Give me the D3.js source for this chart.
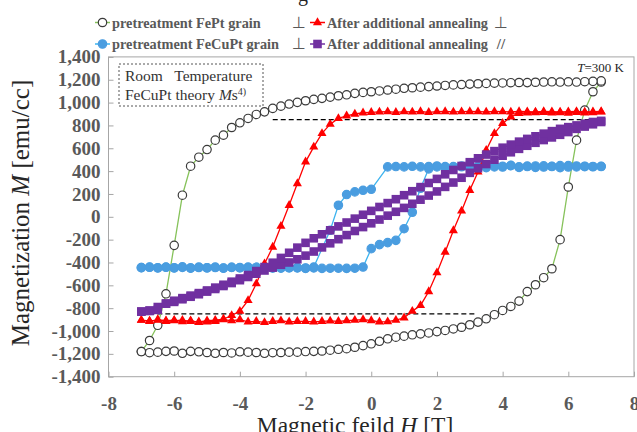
<!DOCTYPE html>
<html>
<head>
<meta charset="utf-8">
<script src="https://cdn.jsdelivr.net/npm/d3@7"></script>
<style>
body { margin: 0; background: #fff; }
svg text { font-family: "Liberation Serif", "Times New Roman", serif; }
</style>
</head>
<body>
<div id="chart"></div>
<script>
// field values shared by every branch, H [T]
var fieldH = [-7, -6.75, -6.5, -6.25, -6, -5.75, -5.5, -5.25, -5, -4.75, -4.5, -4.25,
	-4, -3.75, -3.5, -3.25, -3, -2.75, -2.5, -2.25, -2, -1.75, -1.5, -1.25,
	-1, -0.75, -0.5, -0.25, 0, 0.25, 0.5, 0.75, 1, 1.25, 1.5, 1.75,
	2, 2.25, 2.5, 2.75, 3, 3.25, 3.5, 3.75, 4, 4.25, 4.5, 4.75,
	5, 5.25, 5.5, 5.75, 6, 6.25, 6.5, 6.75, 7];

// pretreatment FePt grain (perp) - up = field increasing, down = field decreasing (both listed in fieldH order)
var feptUp = [-1180, -1190, -1185, -1178, -1175, -1195, -1178, -1182, -1188, -1195, -1188, -1192,
	-1182, -1185, -1188, -1195, -1190, -1188, -1185, -1185, -1180, -1178, -1175, -1168,
	-1160, -1155, -1142, -1128, -1112, -1090, -1068, -1054, -1045, -1033, -1025, -1017,
	-1005, -995, -982, -967, -945, -922, -893, -857, -820, -785, -738, -655,
	-595, -533, -455, -200, 261, 671, 934, 1095, 1180];
var feptDown = [-1180, -1083, -950, -674, -250, 189, 443, 522, 589, 671, 715, 782,
	823, 861, 896, 919, 949, 969, 987, 1002, 1016, 1028, 1037, 1048,
	1060, 1068, 1081, 1089, 1095, 1102, 1110, 1117, 1125, 1130, 1135, 1140,
	1145, 1150, 1155, 1158, 1162, 1165, 1168, 1170, 1172, 1174, 1176, 1175,
	1178, 1180, 1182, 1180, 1182, 1180, 1183, 1186, 1190];

// pretreatment FeCuPt grain (perp)
var fecuptUp = [-445, -440, -448, -442, -446, -438, -450, -444, -447, -441, -449, -443,
	-446, -440, -448, -445, -442, -450, -444, -447, -452, -448, -452, -450,
	-450, -452, -450, -440, -279, -244, -226, -206, -104, 40, 250, 420,
	437, 440, 432, 445, 438, 442, 430, 445, 436, 448, 432, 440,
	445, 436, 442, 430, 448, 437, 443, 438, 440];
var fecuptDown = [-445, -442, -446, -440, -448, -443, -447, -441, -446, -444, -449, -442,
	-445, -447, -441, -446, -449, -443, -447, -445, -448, -440, null, -118,
	101, 195, 218, 232, 241, null, 437, 440, 437, 442, 437, 440,
	445, 432, 440, 438, 446, 435, 441, 437, 443, 450, 438, 444,
	432, 446, 440, 448, 436, 445, 439, 441, 442];

// after additional annealing, perp
var annealPerpUp = [-905, -915, -900, -910, -905, -918, -910, -925, -920, -915, -900, -910,
	-900, -920, -915, -925, -915, -910, -920, -915, -915, -920, -915, -912,
	-915, -910, -905, -900, -908, -920, -918, -905, -884, -826, -776, -654,
	-489, -309, -120, 51, 232, 393, 583, 730, 818, 875, 905, 910,
	912, 915, 910, 912, 908, 915, 910, 912, 918];
var annealPerpDown = [-905, -912, -905, -915, -910, -905, -915, -920, -910, -905, -895, -864,
	-826, -732, -586, -411, -265, -82, 101, 291, 481, 612, 730, 811,
	861, 884, 900, 911, 915, 918, 920, 915, 920, 918, 922, 915,
	920, 922, 918, 920, 922, 920, 918, 922, 920, 918, 922, 920,
	918, 922, 920, 918, 920, 922, 918, 920, 922];

// after additional annealing, parallel
var annealParUp = [-830, -825, -815, -760, -745, -722, -700, -678, -655, -632, -606, -580,
	-555, -527, -498, -470, -445, -420, -400, -372, -340, -304, -268, -232,
	-196, -160, -124, -90, -57, -24, 10, 44, 78, 114, 150, 186,
	222, 262, 300, 342, 385, 425, 462, 500, 535, 565, 595, 622,
	648, 672, 695, 718, 742, 770, 790, 810, 830];
var annealParDown = [-830, -820, -790, -760, -735, -712, -690, -668, -645, -620, -595, -568,
	-540, -510, -475, -440, -402, -360, -315, -270, -228, -188, -153, -118,
	-84, -50, -16, 18, 52, 86, 120, 154, 189, 224, 260, 296,
	332, 372, 410, 445, 478, 512, 545, 575, 605, 632, 658, 682,
	705, 728, 750, 770, 785, 800, 815, 830, 840];

// theoretical Ms guide lines
var msLevel = [850, -850];
var msFrom = [-3, -7];
var msTo = [7, 3.2];

var xTicks = [-8, -6, -4, -2, 0, 2, 4, 6, 8];
var xTickLabels = ["-8", "-6", "-4", "-2", "0", "2", "4", "6", "8"];
var yTicks = [1400, 1200, 1000, 800, 600, 400, 200, 0, -200, -400, -600, -800, -1000, -1200, -1400];
var yTickLabels = ["1,400", "1,200", "1,000", "800", "600", "400", "200", "0",
	"-200", "-400", "-600", "-800", "-1,000", "-1,200", "-1,400"];

var seriesNames = ["pretreatment FePt grain", "pretreatment FeCuPt grain",
	"After additional annealing", "After additional annealing"];
var seriesDir = ["\u22a5", "\u22a5", "\u22a5", "//"];

var width = 637;
var height = 432;

var svg = d3.select("#chart")
	.append("svg")
		.attr("width", width)
		.attr("height", height);

var x = d3.scaleLinear()
	.domain([-8, 8])
	.range([108.5, 634]);
var y = d3.scaleLinear()
	.domain([-1400, 1400])
	.range([376.7, 56.9]);

// plot frame
svg.append("rect")
	.attr("x", x(-8))
	.attr("y", y(1400))
	.attr("width", x(8) - x(-8))
	.attr("height", y(-1400) - y(1400))
	.attr("fill", "none")
	.attr("stroke", "#a6a6a6");

var xAxis = svg.append("g")
	.attr("transform", "translate(0," + y(-1400) + ")")
	.call(d3.axisBottom(x)
		.tickValues(xTicks)
		.tickSize(-5)
		.tickPadding(20)
		.tickFormat(function(d, i) { return xTickLabels[i]; }));
var yAxis = svg.append("g")
	.attr("transform", "translate(" + x(-8) + ",0)")
	.call(d3.axisLeft(y)
		.tickValues(yTicks)
		.tickSize(-5)
		.tickPadding(8)
		.tickFormat(function(d, i) { return yTickLabels[i]; }));

[xAxis, yAxis].forEach(function(g) {
	g.select(".domain").remove();
	g.selectAll(".tick line").attr("stroke", "#a6a6a6");
	g.selectAll(".tick text")
		.attr("fill", "#595959")
		.style("font-size", "19px")
		.style("font-weight", "bold")
		.style("font-family", "'Liberation Serif', serif");
});

// axis titles
var yTitle = svg.append("text")
	.attr("transform", "translate(29,213) rotate(-90)")
	.attr("text-anchor", "middle")
	.attr("fill", "#262626")
	.style("font-size", "25px");
yTitle.append("tspan").text("Magnetization ");
yTitle.append("tspan").style("font-style", "italic").text("M");
yTitle.append("tspan").text(" [emu/cc]");

var xTitle = svg.append("text")
	.attr("x", 355)
	.attr("y", 433)
	.attr("text-anchor", "middle")
	.attr("fill", "#262626")
	.style("font-size", "23.5px");
xTitle.append("tspan").text("Magnetic feild ");
xTitle.append("tspan").style("font-style", "italic").text("H");
xTitle.append("tspan").text(" [T]");

// cut-off title above the legend
svg.append("text")
	.attr("x", 298)
	.attr("y", 1)
	.attr("fill", "#262626")
	.style("font-size", "20px")
	.text("g");

// dashed Ms lines
msLevel.forEach(function(m, i) {
	svg.append("line")
		.attr("x1", x(msFrom[i]))
		.attr("x2", x(msTo[i]))
		.attr("y1", y(m))
		.attr("y2", y(m))
		.attr("stroke", "#000")
		.attr("stroke-width", 1.2)
		.attr("stroke-dasharray", "5,3");
});

function loop(up, down) {
	var a = fieldH.map(function(h, i) { return {h: h, m: up[i]}; });
	var b = fieldH.map(function(h, i) { return {h: h, m: down[i]}; }).reverse();
	return a.concat(b).filter(function(d) { return d.m !== null; });
}

var series = [
	{pts: loop(feptUp, feptDown), line: "#86c25a", marker: "circle", fill: "#fff", stroke: "#3a3a3a"},
	{pts: loop(fecuptUp, fecuptDown), line: "#3db4ef", marker: "circle", fill: "#4a9de0", stroke: "#4a9de0"},
	{pts: loop(annealPerpUp, annealPerpDown), line: "#ff0000", marker: "triangle", fill: "#ff0000", stroke: "#ff0000"},
	{pts: loop(annealParUp, annealParDown), line: "#7030a0", marker: "square", fill: "#7030a0", stroke: "#7030a0"}
];

var line = d3.line()
	.x(function(d) { return x(d.h); })
	.y(function(d) { return y(d.m); });

function drawMarker(g, s, px, py) {
	if (s.marker == "circle") {
		g.append("circle")
			.attr("cx", px).attr("cy", py).attr("r", 4.2)
			.attr("fill", s.fill)
			.attr("stroke", s.stroke)
			.attr("stroke-width", 1.2);
	} else {
		var sym = s.marker == "triangle" ? d3.symbol().type(d3.symbolTriangle).size(36)
			: d3.symbol().type(d3.symbolSquare).size(74);
		g.append("path")
			.attr("d", sym())
			.attr("transform", "translate(" + px + "," + py + ")")
			.attr("fill", s.fill);
	}
}

series.forEach(function(s) {
	var g = svg.append("g");
	g.append("path")
		.datum(s.pts)
		.attr("d", line)
		.attr("fill", "none")
		.attr("stroke", s.line)
		.attr("stroke-width", s.marker == "square" ? 1.5 : 1.3);
	s.pts.forEach(function(d) {
		drawMarker(g, s, x(d.h), y(d.m));
	});
});

// texts inside the plot
svg.append("rect")
	.attr("x", 119)
	.attr("y", 64)
	.attr("width", 144)
	.attr("height", 42)
	.attr("fill", "#fff")
	.attr("stroke", "#555")
	.attr("stroke-dasharray", "2,2");
svg.append("text")
	.attr("x", 125)
	.attr("y", 81)
	.attr("fill", "#333")
	.style("font-size", "15.5px")
	.style("white-space", "pre")
	.text("Room   Temperature");
var msText = svg.append("text")
	.attr("x", 125)
	.attr("y", 100)
	.attr("fill", "#333")
	.style("font-size", "15.5px");
msText.append("tspan").text("FeCuPt theory ");
msText.append("tspan").style("font-style", "italic").text("M");
msText.append("tspan").text("s");
msText.append("tspan").attr("dy", -5).style("font-size", "10px").text("4)");

var tText = svg.append("text")
	.attr("x", 624)
	.attr("y", 72)
	.attr("text-anchor", "end")
	.attr("fill", "#262626")
	.style("font-size", "13px");
tText.append("tspan").style("font-style", "italic").text("T");
tText.append("tspan").text("=300 K");

// legend, two rows by two columns
var legX = [95, 310];
var legY = [22.5, 44];
var dirX = [299, 501];
seriesNames.forEach(function(name, i) {
	var col = i < 2 ? 0 : 1;
	var row = i % 2;
	var lx = legX[col];
	var ly = legY[row];
	var s = series[i];
	var g = svg.append("g");
	g.append("line")
		.attr("x1", lx).attr("x2", lx + 15)
		.attr("y1", ly).attr("y2", ly)
		.attr("stroke", s.line)
		.attr("stroke-width", 1.5);
	drawMarker(g, {marker: s.marker, fill: s.fill, stroke: s.stroke}, lx + 7.5, ly);
	g.append("text")
		.attr("x", lx + 17)
		.attr("y", ly + 5)
		.attr("fill", "#595959")
		.style("font-size", "14.3px")
		.style("font-weight", "bold")
		.text(name);
	g.append("text")
		.attr("x", dirX[col])
		.attr("y", ly + 5)
		.attr("text-anchor", "middle")
		.attr("fill", "#595959")
		.style("font-size", seriesDir[i] == "//" ? "15px" : "16px")
		.style("font-weight", seriesDir[i] == "//" ? "bold" : "normal")
		.style("font-family", seriesDir[i] == "//" ? "'Liberation Serif', serif" : "'DejaVu Sans', sans-serif")
		.text(seriesDir[i]);
});
</script>
</body>
</html>
